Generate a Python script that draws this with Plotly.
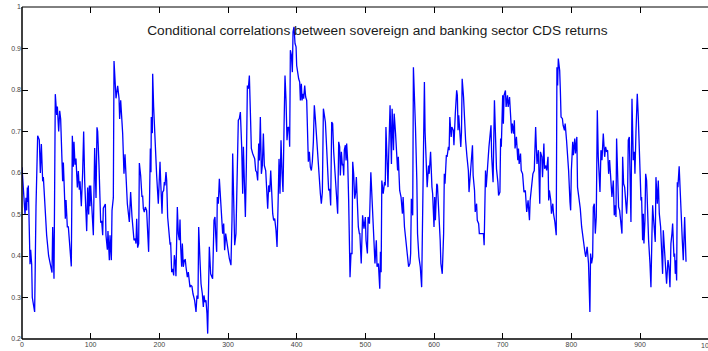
import plotly.graph_objects as go

# Observation index of each vertex of the correlation path
obs = [
    0, 1.9, 4.4, 5.8, 6.8, 7.8, 8.5, 9.2, 10.7, 11.7, 12.6, 14.1, 15, 16.5, 18.4, 20.4, 22.8, 25.2, 26.7, 28.2,
    30.1, 31.1, 34, 35.9, 38.8, 42.2, 43.7, 44.7, 46.6, 48.5, 50, 50.5, 51.5, 53.4, 54.9, 56.3, 59.2, 60.2, 61.2, 63.1,
    64.1, 66, 67.5, 69.9, 71.8, 73.3, 74.8, 75.7, 77.2, 78.6, 80.6, 82, 83.5, 84.5, 86.4, 88.3, 89.8, 91.3, 92.7, 94.2,
    95.6, 97.1, 98.1, 99, 100, 101.9, 103.9, 105.8, 107.8, 109.2, 110.2, 112.1, 114.6, 116, 117.5, 118.4, 119.9, 121.4, 122.3, 124.3,
    125.2, 127.2, 128.2, 130.1, 131.1, 133, 134, 135.4, 136.9, 139.3, 141.3, 142.2, 143.7, 146.6, 148.5, 150, 151.4, 153.4, 156.3, 158.2,
    160.2, 161.1, 163.1, 165, 166, 167, 168.4, 169.9, 170.9, 172.8, 174.7, 175.7, 176.7, 178.1, 179.6, 181.5, 182.5, 184.4, 185.4, 186.9,
    187.8, 188.3, 189.8, 190.3, 191.7, 194.2, 196.1, 198.5, 200, 201, 201.9, 203.9, 204.8, 206.3, 207.3, 208.2, 209.7, 210.7, 212.1, 213.6,
    215.5, 216.5, 218, 219.4, 220.9, 221.8, 223.3, 224.2, 226.2, 227.6, 229.1, 230.1, 231, 232.5, 233.5, 234.9, 236.4, 237.8, 238.8, 240.8,
    242.2, 243.7, 244.6, 246.1, 247.5, 249, 251.4, 253.4, 254.8, 256.3, 257.3, 259.2, 260.7, 262.6, 264.1, 265, 266.5, 267.9, 269.4, 270.4,
    271.8, 272.8, 274.7, 276.2, 277.6, 279.6, 281, 282, 283.5, 284.4, 285.9, 287.4, 288.8, 290.7, 292.2, 293.7, 295.1, 296.6, 298, 300,
    301.9, 304.3, 305.8, 306.8, 308.2, 309.7, 311.6, 313.6, 315, 316.5, 318, 319.9, 321.4, 322.4, 323.8, 325.3, 326.7, 328.2, 329.6, 331.1,
    332.5, 334, 335.9, 337.4, 338.9, 340.3, 341.8, 343.2, 344.7, 345.7, 347.1, 348.6, 350, 351.5, 352.9, 354.9, 356.3, 357.8, 359.2, 360.7,
    362.2, 363.6, 365.1, 366.5, 368, 369.9, 371.4, 372.8, 374.3, 375.7, 377.2, 378.7, 380.1, 381.6, 383, 384.5, 385.9, 387.4, 388.9, 389.8,
    390.8, 392.3, 393.7, 394.7, 396.1, 397.6, 399.1, 400, 401.5, 402.9, 404.4, 405.4, 406.8, 407.8, 409.2, 410.2, 411.7, 413.1, 414.6, 416,
    417, 418.5, 419.9, 421.4, 422.8, 424.3, 425.7, 427.2, 429.1, 431.1, 433, 434.5, 435.9, 437.4, 438.9, 440.3, 441.8, 443.7, 445.2, 446.6,
    448.1, 449.5, 451, 452.4, 453.9, 455.8, 457.8, 459.7, 461.2, 462.6, 463.6, 465.1, 466.5, 467.5, 468.5, 469.4, 470.9, 471.9, 472.8, 474.3,
    475.7, 476.7, 477.7, 479.1, 480.6, 481.6, 483, 484.5, 485.9, 486.9, 488.4, 489.8, 491.3, 492, 494, 496, 498, 500, 501, 503,
    504, 506, 508, 510, 512, 514, 516, 517, 519, 521, 522, 523, 524, 526, 528, 529, 530, 531, 533, 534,
    536, 538, 539, 541, 542, 544, 546, 547, 548, 550, 552, 554, 555, 557, 559, 562, 563, 565, 566, 567,
    569, 570, 571, 573, 575, 576, 578, 580, 582, 583, 584, 586, 587, 590, 592, 593, 595, 597, 598, 600,
    601, 602, 604, 605, 607, 609, 610, 612, 614, 615, 616, 618, 619, 621, 622, 623, 625, 626, 628, 629,
    631, 633, 634, 635, 636, 638, 639, 640, 641, 643, 644, 646, 648, 650, 651, 653, 655, 656, 657, 659,
    660, 662, 663, 665, 666, 672, 673, 675, 676, 677, 678, 680, 683, 684, 686, 688, 690, 691, 693, 694,
    696, 697, 698, 700, 701, 702, 704, 705, 707, 708, 710, 711, 713, 714, 716, 717, 718, 720, 722, 723,
    724, 726, 727, 729, 731, 733, 734, 735, 737, 739, 740, 742, 744, 746, 748, 749, 750, 752, 754, 755,
    757, 758, 760, 761, 763, 764, 766, 767, 768, 770, 771, 773, 774, 776, 778, 779, 780, 781, 783, 784,
    785, 787, 788, 790, 791, 793, 795, 796, 798, 799, 800, 802, 803, 805, 806, 808, 809, 811, 813, 815,
    817, 818, 820, 821, 823, 825, 826, 827, 828, 829.5, 831, 832, 833.4, 834.9, 836.3, 837.8, 839.2, 841.7, 843.1, 844.6,
    846.5, 848.5, 849.9, 851.4, 852.8, 854.3, 855.7, 857.7, 859.1, 861.1, 862.5, 864, 865, 865.9, 867.4, 868.8, 870.3, 872.2, 873.7, 874.7,
    876.1, 877.6, 879, 880.5, 881.9, 882.9, 884.4, 885.3, 886.8, 888.3, 890.2, 891.7, 892.6, 894.1, 896, 897.5, 898.9, 900.4, 901.4, 902.3,
    903.8, 904.8, 905.7, 907.2, 908.2, 909.6, 911.1, 912.5, 914.5, 915.9, 917.4, 918.4, 919.3, 920.8, 922.2, 923.2, 925.2, 926.6, 928.1, 930,
    931.5, 932.9, 933.9, 935.8, 937.3, 938.7, 940.7, 942.1, 943.6, 945, 946.5, 947.5, 949.4, 950.4, 951.4, 952.3, 953.3, 954.3, 955.2, 957,
    958.5, 960, 961.5, 963, 965, 967,
]

# Conditional correlation at each observation
corr = [
    0.614, 0.566, 0.50, 0.54, 0.51, 0.565, 0.53, 0.57, 0.45, 0.38, 0.415, 0.38, 0.30, 0.28, 0.265, 0.52, 0.69, 0.68, 0.60, 0.67,
    0.58, 0.59, 0.50, 0.45, 0.40, 0.37, 0.36, 0.47, 0.345, 0.79, 0.76, 0.74, 0.76, 0.70, 0.75, 0.73, 0.58, 0.625, 0.58, 0.49,
    0.535, 0.47, 0.47, 0.40, 0.375, 0.69, 0.615, 0.675, 0.62, 0.635, 0.565, 0.605, 0.56, 0.58, 0.52, 0.60, 0.70, 0.58, 0.50, 0.46,
    0.565, 0.50, 0.57, 0.52, 0.57, 0.50, 0.45, 0.66, 0.54, 0.71, 0.70, 0.62, 0.48, 0.485, 0.45, 0.515, 0.52, 0.525, 0.45, 0.415,
    0.46, 0.39, 0.45, 0.39, 0.51, 0.54, 0.87, 0.82, 0.78, 0.81, 0.78, 0.73, 0.775, 0.695, 0.598, 0.645, 0.58, 0.526, 0.482, 0.554,
    0.494, 0.47, 0.438, 0.442, 0.43, 0.49, 0.42, 0.43, 0.624, 0.594, 0.542, 0.546, 0.514, 0.506, 0.518, 0.51, 0.462, 0.41, 0.502, 0.659,
    0.602, 0.735, 0.696, 0.839, 0.759, 0.655, 0.594, 0.526, 0.582, 0.627, 0.582, 0.502, 0.554, 0.558, 0.578, 0.57, 0.602, 0.582, 0.494, 0.47,
    0.43, 0.431, 0.361, 0.369, 0.353, 0.402, 0.382, 0.351, 0.518, 0.454, 0.438, 0.488, 0.426, 0.374, 0.43, 0.374, 0.39, 0.391, 0.374, 0.349,
    0.361, 0.341, 0.325, 0.329, 0.327, 0.309, 0.293, 0.265, 0.305, 0.297, 0.47, 0.39, 0.333, 0.309, 0.277, 0.305, 0.289, 0.293, 0.261, 0.213,
    0.301, 0.422, 0.357, 0.349, 0.345, 0.486, 0.494, 0.454, 0.41, 0.542, 0.526, 0.586, 0.55, 0.486, 0.454, 0.478, 0.414, 0.454, 0.438, 0.414,
    0.394, 0.378, 0.486, 0.647, 0.558, 0.426, 0.454, 0.606, 0.727, 0.731, 0.747, 0.663, 0.55, 0.663, 0.566, 0.494, 0.614, 0.811, 0.803, 0.835,
    0.751, 0.659, 0.647, 0.639, 0.634, 0.606, 0.602, 0.582, 0.671, 0.63, 0.735, 0.598, 0.618, 0.695, 0.618, 0.606, 0.55, 0.514, 0.57, 0.554,
    0.606, 0.55, 0.502, 0.486, 0.49, 0.462, 0.422, 0.518, 0.634, 0.55, 0.679, 0.598, 0.554, 0.711, 0.835, 0.775, 0.679, 0.711, 0.707, 0.663,
    0.896, 0.884, 0.843, 0.94, 0.952, 0.912, 0.904, 0.859, 0.839, 0.827, 0.819, 0.775, 0.815, 0.775, 0.791, 0.779, 0.811, 0.783, 0.775, 0.711,
    0.627, 0.651, 0.614, 0.606, 0.627, 0.675, 0.763, 0.731, 0.679, 0.647, 0.598, 0.55, 0.526, 0.554, 0.755, 0.739, 0.723, 0.659, 0.606, 0.558,
    0.562, 0.522, 0.723, 0.719, 0.651, 0.606, 0.566, 0.502, 0.675, 0.663, 0.594, 0.651, 0.618, 0.622, 0.594, 0.655, 0.667, 0.63, 0.671, 0.627,
    0.534, 0.466, 0.349, 0.406, 0.406, 0.627, 0.598, 0.538, 0.554, 0.59, 0.526, 0.47, 0.454, 0.454, 0.382, 0.498, 0.466, 0.494, 0.438, 0.406,
    0.494, 0.478, 0.602, 0.534, 0.438, 0.382, 0.438, 0.374, 0.382, 0.321, 0.410, 0.361, 0.582, 0.550, 0.578, 0.570, 0.711, 0.663, 0.566, 0.643,
    0.763, 0.622, 0.755, 0.655, 0.743, 0.695, 0.639, 0.606, 0.639, 0.558, 0.542, 0.502, 0.542, 0.470, 0.438, 0.390, 0.374, 0.382, 0.406, 0.538,
    0.498, 0.855, 0.815, 0.711, 0.582, 0.454, 0.398, 0.374, 0.325, 0.518, 0.570, 0.819, 0.699, 0.566, 0.618, 0.598, 0.651, 0.566, 0.550, 0.470,
    0.542, 0.486, 0.574, 0.570, 0.510, 0.438, 0.382, 0.357, 0.454, 0.598, 0.574, 0.643, 0.639, 0.663, 0.655, 0.735, 0.687, 0.711, 0.703, 0.667,
    0.743, 0.799, 0.787, 0.703, 0.739, 0.683, 0.663, 0.699, 0.827, 0.783, 0.743, 0.679, 0.639, 0.606, 0.554, 0.598, 0.655, 0.667, 0.594, 0.558,
    0.506, 0.526, 0.486, 0.478, 0.454, 0.454, 0.426, 0.606, 0.566, 0.606, 0.614, 0.663, 0.715, 0.639, 0.578, 0.775, 0.679, 0.610, 0.578, 0.546,
    0.554, 0.683, 0.663, 0.787, 0.719, 0.787, 0.799, 0.759, 0.787, 0.759, 0.783, 0.743, 0.695, 0.719, 0.695, 0.727, 0.659, 0.687, 0.631, 0.659,
    0.622, 0.647, 0.606, 0.598, 0.554, 0.558, 0.518, 0.506, 0.534, 0.486, 0.534, 0.574, 0.598, 0.606, 0.711, 0.663, 0.622, 0.655, 0.526, 0.651,
    0.639, 0.590, 0.671, 0.610, 0.618, 0.606, 0.639, 0.534, 0.558, 0.534, 0.502, 0.526, 0.502, 0.482, 0.450, 0.855, 0.811, 0.876, 0.847, 0.799,
    0.735, 0.731, 0.715, 0.703, 0.719, 0.679, 0.631, 0.606, 0.530, 0.510, 0.606, 0.675, 0.643, 0.683, 0.647, 0.687, 0.566, 0.538, 0.514, 0.470,
    0.438, 0.426, 0.406, 0.398, 0.422, 0.382, 0.329, 0.265, 0.406, 0.382, 0.398, 0.518, 0.526, 0.454, 0.494, 0.751, 0.639, 0.554, 0.655, 0.631,
    0.695, 0.639, 0.663, 0.651, 0.655, 0.598, 0.631, 0.582, 0.542, 0.582, 0.498, 0.522, 0.494, 0.683, 0.582, 0.518, 0.510, 0.486, 0.454, 0.639,
    0.574, 0.566, 0.534, 0.502, 0.550, 0.679, 0.687, 0.582, 0.482, 0.779, 0.631, 0.651, 0.598, 0.699, 0.791, 0.735, 0.659, 0.566, 0.534, 0.542,
    0.438, 0.502, 0.430, 0.486, 0.598, 0.582, 0.494, 0.438, 0.382, 0.325, 0.454, 0.522, 0.498, 0.454, 0.434, 0.590, 0.526, 0.582, 0.502, 0.470,
    0.398, 0.357, 0.462, 0.406, 0.349, 0.333, 0.390, 0.374, 0.325, 0.430, 0.454, 0.478, 0.398, 0.406, 0.357, 0.390, 0.341, 0.578, 0.566, 0.616,
    0.570, 0.500, 0.440, 0.390, 0.494, 0.386,
]

x_ticks = [0, 100, 200, 300, 400, 500, 600, 700, 800, 900, 1000]
y_ticks = [0.2, 0.3, 0.4, 0.5, 0.6, 0.7, 0.8, 0.9, 1.0]
y_tick_text = ["0.2", "0.3", "0.4", "0.5", "0.6", "0.7", "0.8", "0.9", "1"]
title_text = "Conditional correlations between sovereign and banking sector CDS returns"

fig = go.Figure()
fig.add_trace(go.Scatter(
    x=obs, y=corr, mode="lines",
    line=dict(color="#0000ff", width=1.3),
    hoverinfo="skip", showlegend=False,
))

tick_font = dict(family="Liberation Sans, Arial, sans-serif", size=7, color="#444444")
axis_common = dict(
    showgrid=False, zeroline=False, showline=False,
    ticks="inside", ticklen=6, tickwidth=1, tickcolor="#000000",
    mirror="ticks", tickfont=tick_font,
)

fig.update_layout(
    width=708, height=351,
    margin=dict(l=22, r=0, t=7, b=12),
    paper_bgcolor="#ffffff", plot_bgcolor="#ffffff",
    title=dict(
        text=title_text, xref="container", x=0.533, xanchor="center",
        yref="container", y=0.915, yanchor="middle",
        font=dict(family="Liberation Sans, Arial, sans-serif", size=13.7, color="#1a1a1a"),
    ),
    xaxis=dict(range=[0, 999], tickvals=x_ticks, ticktext=[str(v) for v in x_ticks], **axis_common),
    yaxis=dict(range=[0.2, 1.0], tickvals=y_ticks, ticktext=y_tick_text, **axis_common),
)

# Box frame on the left, bottom and top edges of the plot area
frame = dict(type="line", xref="paper", yref="paper", line=dict(color="#000000", width=1.5), layer="above")
fig.add_shape(x0=0, x1=0, y0=0, y1=1, **frame)
fig.add_shape(x0=0, x1=1, y0=0, y1=0, **frame)
fig.add_shape(x0=0, x1=1, y0=1, y1=1, **dict(frame, line=dict(color="#000000", width=1)))

# Last x tick label sits on the right edge of the frame
fig.add_annotation(
    x=1000 / 999, xref="paper", xanchor="center", y=0, yref="paper", yanchor="top", yshift=-1,
    text="1000", showarrow=False, font=tick_font,
)

fig.write_html("out.html")
